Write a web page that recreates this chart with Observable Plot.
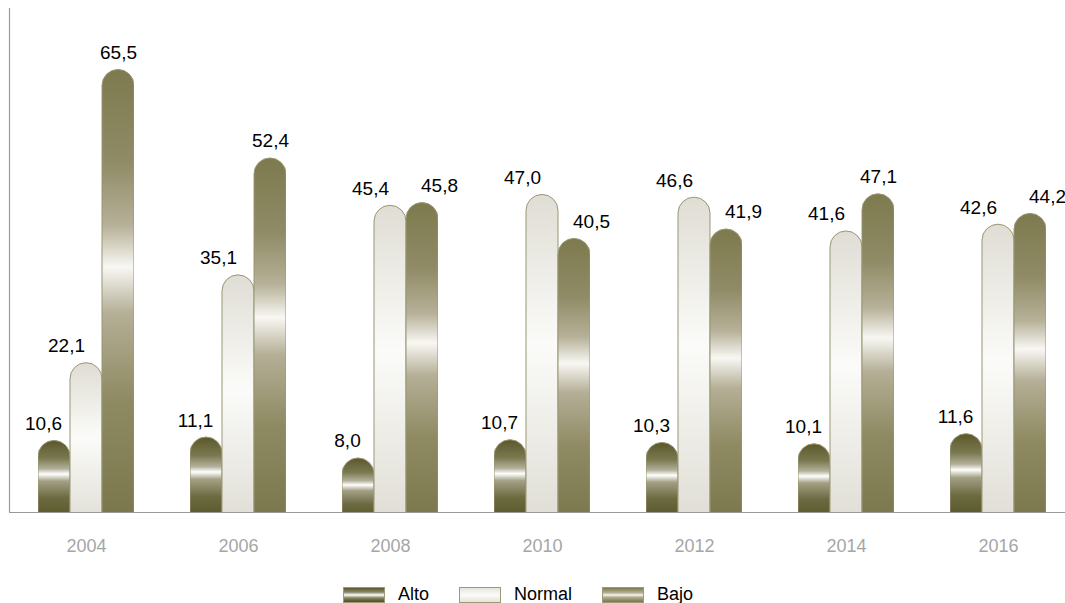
<!DOCTYPE html>
<html><head><meta charset="utf-8">
<script src="https://cdn.jsdelivr.net/npm/d3@7"></script>
<script src="https://cdn.jsdelivr.net/npm/@observablehq/plot@0.6"></script>
<style>
html,body{margin:0;padding:0;background:#fff;overflow:hidden;}
body{width:1065px;height:603px;font-family:"Liberation Sans",Arial,sans-serif;}
#chart svg g[aria-label^="fx-axis"]{color:#a6a6a6;}
#chart svg g[aria-label^="fx-axis"] text{fill:#a6a6a6;}
#legend{display:flex;align-items:center;position:absolute;top:584px;left:343px;font-size:18px;color:#000;}
#legend .item{display:flex;align-items:center;margin-right:30px;}
#legend .sw{width:42px;height:16px;border:1px solid #9e9a78;box-sizing:border-box;margin-right:13px;}
</style></head><body>
<svg width="0" height="0" style="position:absolute">
<defs>
<linearGradient id="gAlto" x1="0" y1="0" x2="0" y2="1">
<stop offset="0" stop-color="#5a582a"/><stop offset="0.2" stop-color="#7a7850"/><stop offset="0.32" stop-color="#b2b09a"/><stop offset="0.38" stop-color="#ffffff"/><stop offset="0.46" stop-color="#a3a085"/><stop offset="0.65" stop-color="#6c6a40"/><stop offset="1" stop-color="#4c4a1c"/>
</linearGradient>
<linearGradient id="gNormal" x1="0" y1="0" x2="0" y2="1">
<stop offset="0" stop-color="#dfddd4"/><stop offset="0.45" stop-color="#fbfbf9"/><stop offset="1" stop-color="#dedcd3"/>
</linearGradient>
<linearGradient id="gBajo" x1="0" y1="0" x2="0" y2="1">
<stop offset="0" stop-color="#7d7a4e"/><stop offset="0.2" stop-color="#8f8b66"/><stop offset="0.34" stop-color="#b6b198"/><stop offset="0.43" stop-color="#f8f7f3"/><stop offset="0.53" stop-color="#b4af96"/><stop offset="0.72" stop-color="#8e8a62"/><stop offset="1" stop-color="#78754a"/>
</linearGradient>
</defs></svg>
<div id="chart"></div>
<div id="legend"></div>
<script>
const years = ["2004","2006","2008","2010","2012","2014","2016"];
const series = ["Alto","Normal","Bajo"];
const alto = [10.6,11.1,8.0,10.7,10.3,10.1,11.6];
const normal = [22.1,35.1,45.4,47.0,46.6,41.6,42.6];
const bajo = [65.5,52.4,45.8,40.5,41.9,47.1,44.2];

const seriesValues = [alto, normal, bajo];
const data = years.flatMap((year, i) => series.map((s, j) => ({year, series: s, value: seriesValues[j][i], normal: normal[i]})));
const fmt = v => v.toFixed(1).replace(".", ",");
const gradients = ["url(#gAlto)", "url(#gNormal)", "url(#gBajo)"];
const cssGradients = [
  "linear-gradient(to bottom,#5a582a 0%,#8a8866 30%,#ffffff 50%,#8a8866 70%,#4c4a1c 100%)",
  "linear-gradient(to bottom,#e6e4dc 0%,#fbfbf9 50%,#e6e4dc 100%)",
  "linear-gradient(to bottom,#7d7a4e 0%,#b6b198 35%,#f8f7f3 50%,#b4af96 65%,#78754a 100%)"
];

// label placement: labels of neighbouring bars of similar height are pushed aside
const labelOpts = {x: "series", y: "value", text: d => fmt(d.value), lineAnchor: "bottom", dy: -11, fontSize: 19, fill: "#000"};
const isAlto = d => d.series === "Alto";
const isNormal = d => d.series === "Normal";
const bajoClear = d => d.series === "Bajo" && d.value - d.normal > 3;
const bajoShift = d => d.series === "Bajo" && d.value - d.normal <= 3;

const plot = Plot.plot({
  width: 1065, height: 570,
  marginTop: 8, marginBottom: 58, marginLeft: 9, marginRight: 0,
  style: {fontFamily: "Liberation Sans, Arial, sans-serif", fontSize: "18px", background: "transparent", overflow: "visible"},
  facet: {data, x: "year"},
  fx: {domain: years, range: [9, 1075], paddingInner: 0.368, paddingOuter: 0.19, label: null, tickSize: 0, tickPadding: 27},
  x: {domain: series, padding: 0, axis: null},
  y: {domain: [0, 74.6], axis: null},
  color: {domain: series, range: gradients},
  marks: [
    Plot.barY(data, {x: "series", y: "value", fill: "series", stroke: "#9a9672", strokeWidth: 1, rx: 16, insetBottom: -17, clip: true}),
    Plot.text(data, {...labelOpts, filter: isAlto, dx: -11}),
    Plot.text(data, {...labelOpts, filter: isNormal, dx: -20}),
    Plot.text(data, {...labelOpts, filter: bajoClear, dx: 0}),
    Plot.text(data, {...labelOpts, filter: bajoShift, dx: 17})
  ]
});
document.getElementById("chart").appendChild(plot);

const svg = d3.select(plot.tagName.toLowerCase() === "svg" ? plot : plot.querySelector("svg"));
const ys = plot.scale("y");
const y0 = ys.apply(0), yTop = ys.apply(ys.domain[1]);
svg.append("line").attr("x1", 9).attr("x2", 1065).attr("y1", y0 + 0.5).attr("y2", y0 + 0.5).attr("stroke", "#9a9a9a").attr("stroke-width", 1.2);
svg.append("line").attr("x1", 9.5).attr("x2", 9.5).attr("y1", yTop).attr("y2", y0).attr("stroke", "#9a9a9a").attr("stroke-width", 1.2);

const legend = d3.select("#legend");
series.forEach((s, i) => {
  const item = legend.append("div").attr("class", "item");
  item.append("div").attr("class", "sw").style("background", cssGradients[i]);
  item.append("span").text(s);
});
</script>
</body></html>
